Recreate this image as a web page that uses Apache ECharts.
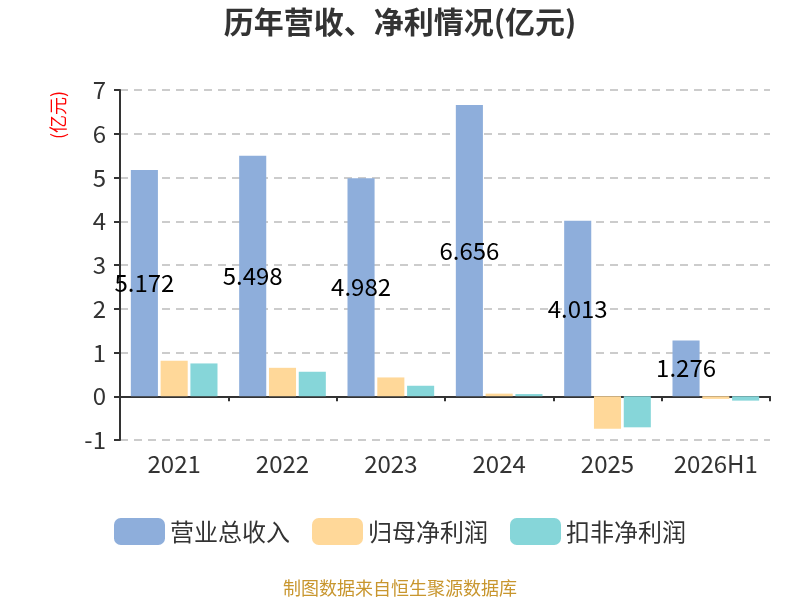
<!DOCTYPE html>
<html>
<head>
<meta charset="utf-8">
<script src="https://cdn.jsdelivr.net/npm/echarts@6/dist/echarts.min.js"></script>
<style>
  html, body { margin: 0; padding: 0; background: #fff; }
  #main { width: 800px; height: 600px; }
</style>
</head>
<body>
<div id="main"></div>
<script>
// 年份
const categories = ['2021', '2022', '2023', '2024', '2025', '2026H1'];
// 营业总收入(亿元)
const revenue = [5.172, 5.498, 4.982, 6.656, 4.013, 1.276];
// 归母净利润
const netProfit = [0.81, 0.65, 0.43, 0.06, -0.74, -0.06];
// 扣非净利润
const netProfitDeducted = [0.75, 0.56, 0.24, 0.05, -0.71, -0.10];
const seriesNames = ['营业总收入', '归母净利润', '扣非净利润'];

const FONT = '"Noto Sans CJK SC", "Noto Sans", sans-serif';
const chart = echarts.init(document.getElementById('main'));

const option = {
  textStyle: { fontFamily: FONT },
  title: {
    text: '历年营收、净利情况(亿元)',
    left: 'center',
    top: 2,
    textStyle: { fontSize: 30, fontWeight: 'bold', color: '#333', fontFamily: FONT }
  },
  legend: {
    data: seriesNames,
    bottom: 50,
    itemWidth: 51,
    itemHeight: 27,
    itemGap: 22,
    textStyle: { fontSize: 24, color: '#333', fontFamily: FONT }
  },
  graphic: [
    {
      type: 'text',
      left: 'center',
      top: 579,
      style: { text: '制图数据来自恒生聚源数据库', fill: '#c8962e', fontSize: 18, fontFamily: FONT }
    },
    {
      // 单位 (亿元)
      type: 'text',
      x: 58,
      y: 115,
      rotation: Math.PI / 2,
      style: {
        text: '(亿元)', fill: 'red', fontSize: 18, fontFamily: FONT,
        textAlign: 'center', textVerticalAlign: 'middle'
      }
    }
  ],
  grid: { left: 120, right: 30, top: 90, bottom: 160 },
  xAxis: {
    type: 'category',
    data: categories,
    axisLine: { onZero: true, lineStyle: { color: '#333', width: 2 } },
    axisTick: { show: true, lineStyle: { color: '#333', width: 2 } },
    axisLabel: { interval: 0, fontSize: 24, color: '#333', margin: 12, fontFamily: FONT }
  },
  yAxis: {
    type: 'value',
    min: -1,
    max: 7,
    interval: 1,
    axisLine: { show: true, lineStyle: { color: '#333', width: 2 } },
    axisTick: { show: true, length: 6, lineStyle: { color: '#333', width: 2 } },
    axisLabel: { fontSize: 24, color: '#333', margin: 14, fontFamily: FONT },
    splitLine: { lineStyle: { type: [8, 6], color: '#ccc', width: 2 } }
  },
  series: [
    {
      name: seriesNames[0],
      type: 'bar',
      data: revenue,
      barGap: '10%',
      barCategoryGap: '20%',
      itemStyle: { color: '#8eaedb' },
      label: {
        show: true,
        position: 'inside',
        color: '#000',
        fontSize: 24,
        fontFamily: FONT,
        formatter: p => p.value.toFixed(3)
      }
    },
    {
      name: seriesNames[1],
      type: 'bar',
      data: netProfit,
      itemStyle: { color: '#ffd899' }
    },
    {
      name: seriesNames[2],
      type: 'bar',
      data: netProfitDeducted,
      itemStyle: { color: '#86d6d9' }
    }
  ]
};

chart.setOption(option);
</script>
</body>
</html>
